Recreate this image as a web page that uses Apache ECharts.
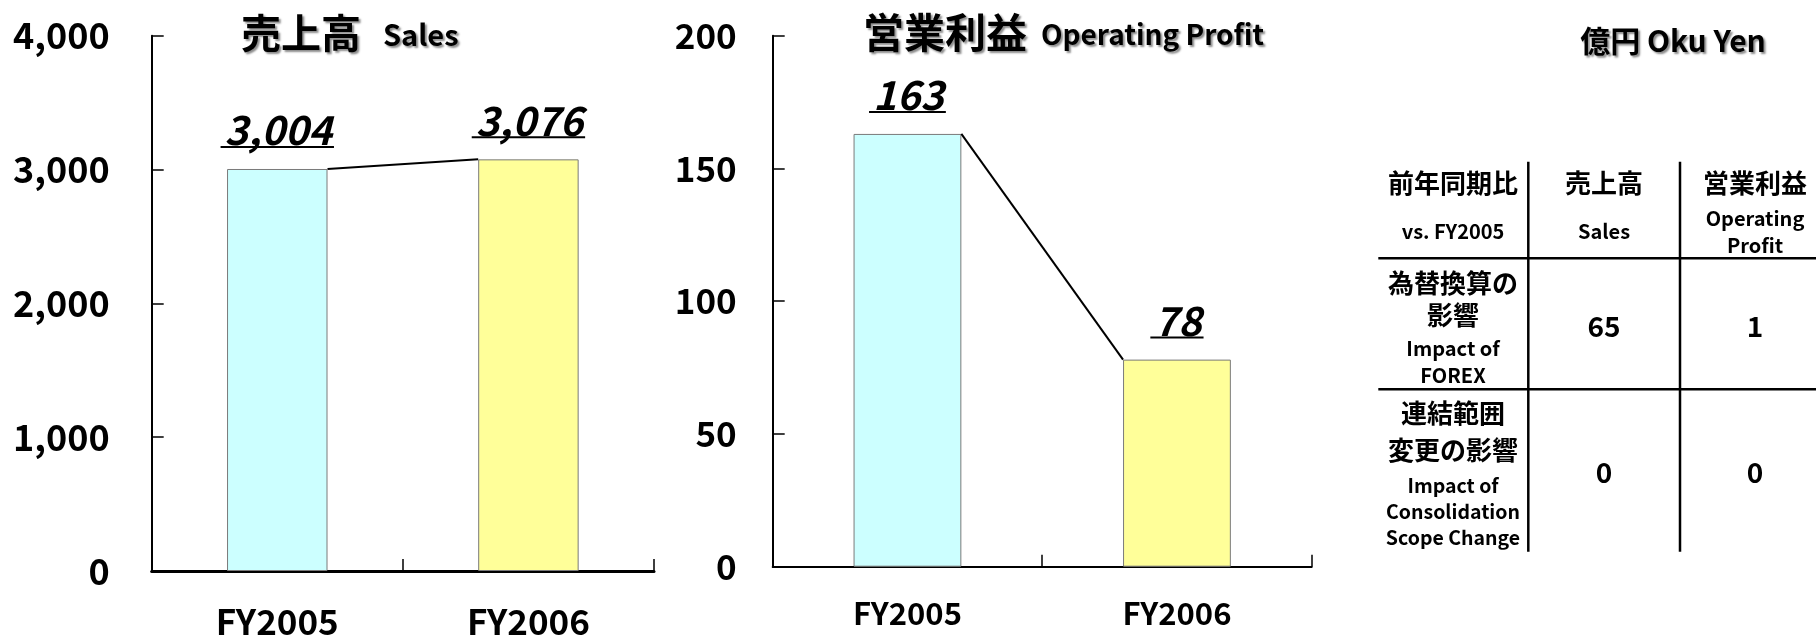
<!DOCTYPE html>
<html>
<head>
<meta charset="utf-8">
<script src="https://cdn.jsdelivr.net/npm/echarts@6/dist/echarts.min.js"></script>
<style>
html,body{margin:0;padding:0;background:#fff;}
#chart{width:1816px;height:641px;}
</style>
</head>
<body>
<div id="chart"></div>
<script>
// ---- data ----
const categories = ['FY2005', 'FY2006'];
const salesValues = [3004, 3076];
const profitValues = [163, 78];
const barColors = ['#CCFFFF', '#FFFF99'];
const salesAxis = { min: 0, max: 4000, interval: 1000 };
const profitAxis = { min: 0, max: 200, interval: 50 };
const salesTitle = ['売上高', 'Sales'];
const profitTitle = ['営業利益', 'Operating Profit'];
const unitLabel = '億円 Oku Yen';
const tableHeaderJa = ['前年同期比', '売上高', '営業利益'];
const tableHeaderEn = ['vs. FY2005', 'Sales', 'Operating\nProfit'];
const rowLabelsJa = ['為替換算の\n影響', '連結範囲\n変更の影響'];
const rowLabelsEn = ['Impact of\nFOREX', 'Impact of\nConsolidation\nScope Change'];
const forexImpact = [65, 1];
const scopeImpact = [0, 0];

// ---- helpers ----
const FONT = '"Noto Sans CJK JP", "Noto Sans", sans-serif';
const mctx = document.createElement('canvas').getContext('2d');
function measure(t, font) { mctx.font = font; return mctx.measureText(t).width; }
function fmt(v) { return Number(v).toLocaleString('en-US'); }
const BAR_RATIO = 0.4;

function labelRender(fontSize) {
  return function (params, api) {
    const c = api.coord([api.value(0), api.value(1)]);
    const txt = fmt(api.value(1));
    const font = 'italic bold ' + fontSize + 'px ' + FONT;
    const w = measure(txt, font);
    const uy = c[1] - 22;
    return {
      type: 'group',
      children: [
        { type: 'text', x: c[0] + 1, y: uy - 17,
          style: { text: txt, font: font, fill: '#000', align: 'center', verticalAlign: 'middle' } },
        { type: 'line', shape: { x1: c[0] - w / 2 - 3, y1: uy, x2: c[0] + w / 2 + 3, y2: uy },
          style: { stroke: '#000', lineWidth: 2 } }
      ]
    };
  };
}
function connectorRender(params, api) {
  const bw = api.size([1, 0])[0] * BAR_RATIO;
  const p0 = api.coord([api.value(0), api.value(1)]);
  const p1 = api.coord([api.value(2), api.value(3)]);
  return { type: 'line',
    shape: { x1: p0[0] + bw / 2, y1: p0[1], x2: p1[0] - bw / 2, y2: p1[1] },
    style: { stroke: '#000', lineWidth: 2 } };
}
function barData(vals) {
  return vals.map((v, i) => ({ value: v, itemStyle: { color: barColors[i] } }));
}
function pairs(vals) {
  const out = [];
  for (let i = 0; i < vals.length - 1; i++) out.push([i, vals[i], i + 1, vals[i + 1]]);
  return out;
}

const chart = echarts.init(document.getElementById('chart'), null, { renderer: 'canvas' });

function xAxisCfg(gridIndex, fontSize, margin, lineW) {
  return {
    type: 'category', gridIndex: gridIndex, data: categories, boundaryGap: true,
    axisLine: { show: true, lineStyle: { color: '#000', width: lineW } },
    axisTick: { show: true, inside: true, length: 12, alignWithLabel: false, lineStyle: { color: '#000', width: 1.5 } },
    axisLabel: { interval: 0, color: '#000', fontFamily: FONT, fontWeight: 'bold', fontSize: fontSize, margin: margin },
    splitLine: { show: false }
  };
}
function yAxisCfg(gridIndex, ax, fontSize, margin) {
  return {
    type: 'value', gridIndex: gridIndex, min: ax.min, max: ax.max, interval: ax.interval,
    axisLine: { show: true, lineStyle: { color: '#000', width: 2 } },
    axisTick: { show: true, inside: true, length: 12, lineStyle: { color: '#000', width: 1.5 } },
    axisLabel: { color: '#000', fontFamily: FONT, fontWeight: 'bold', fontSize: fontSize, margin: margin,
      formatter: v => fmt(v) },
    splitLine: { show: false }
  };
}

const titleShadow = { textShadowColor: 'rgba(0,0,0,0.45)', textShadowBlur: 2, textShadowOffsetX: 2, textShadowOffsetY: 2 };
function txt(x, y, text, size, extra) {
  return { type: 'text', x: x, y: y, silent: true,
    style: Object.assign({ text: text, font: 'bold ' + size + 'px ' + FONT, fill: '#000',
      align: 'center', verticalAlign: 'middle' }, extra || {}) };
}

const colX = [1453, 1604, 1755];
const graphics = [
  // chart titles
  txt(241, 33, salesTitle[0], 40, Object.assign({ align: 'left' }, titleShadow)),
  txt(383, 35, salesTitle[1], 29, Object.assign({ align: 'left' }, titleShadow)),
  txt(863, 32, profitTitle[0], 41, Object.assign({ align: 'left' }, titleShadow)),
  txt(1041, 34, profitTitle[1], 28, Object.assign({ align: 'left' }, titleShadow)),
  txt(1673, 41, unitLabel, 30, titleShadow),
  // table lines
  { type: 'line', shape: { x1: 1528.3, y1: 161.7, x2: 1528.3, y2: 551.7 }, style: { stroke: '#000', lineWidth: 2.5 } },
  { type: 'line', shape: { x1: 1680, y1: 161.7, x2: 1680, y2: 551.7 }, style: { stroke: '#000', lineWidth: 2.5 } },
  { type: 'line', shape: { x1: 1378.3, y1: 258.3, x2: 1816, y2: 258.3 }, style: { stroke: '#000', lineWidth: 2.5 } },
  { type: 'line', shape: { x1: 1378.3, y1: 389.3, x2: 1816, y2: 389.3 }, style: { stroke: '#000', lineWidth: 2.5 } }
];
tableHeaderJa.forEach((t, i) => graphics.push(txt(colX[i], 183.3, t, 26)));
tableHeaderEn.forEach((t, i) => graphics.push(txt(colX[i], 231.7, t, 20, { lineHeight: 26.7 })));
graphics.push(txt(colX[0], 299.2, rowLabelsJa[0], 26, { lineHeight: 31.7 }));
graphics.push(txt(colX[0], 361.7, rowLabelsEn[0], 20, { lineHeight: 26.7 }));
graphics.push(txt(colX[0], 431.7, rowLabelsJa[1], 26, { lineHeight: 36.7 }));
graphics.push(txt(colX[0], 511.4, rowLabelsEn[1], 19.5, { lineHeight: 26.3 }));
forexImpact.forEach((v, i) => graphics.push(txt(colX[i + 1], 326.7, fmt(v), 28)));
scopeImpact.forEach((v, i) => graphics.push(txt(colX[i + 1], 472.7, fmt(v), 28)));

const option = {
  backgroundColor: '#ffffff',
  animation: false,
  grid: [
    { left: 151.7, top: 35.7, width: 502.3, height: 535.3, containLabel: false, outerBoundsMode: 'none' },
    { left: 772.7, top: 35.7, width: 539, height: 531, containLabel: false, outerBoundsMode: 'none' }
  ],
  xAxis: [xAxisCfg(0, 35, 33, 3), xAxisCfg(1, 31, 31, 2)],
  yAxis: [yAxisCfg(0, salesAxis, 36, 42), yAxisCfg(1, profitAxis, 35, 36)],
  series: [
    { type: 'bar', xAxisIndex: 0, yAxisIndex: 0, data: barData(salesValues), barWidth: (BAR_RATIO * 100) + '%',
      itemStyle: { borderColor: '#7a7a7a', borderWidth: 1 } },
    { type: 'bar', xAxisIndex: 1, yAxisIndex: 1, data: barData(profitValues), barWidth: (BAR_RATIO * 100) + '%',
      itemStyle: { borderColor: '#7a7a7a', borderWidth: 1 } },
    { type: 'custom', xAxisIndex: 0, yAxisIndex: 0, data: pairs(salesValues), encode: { x: [0, 2], y: [1, 3] },
      renderItem: connectorRender, z: 5 },
    { type: 'custom', xAxisIndex: 1, yAxisIndex: 1, data: pairs(profitValues), encode: { x: [0, 2], y: [1, 3] },
      renderItem: connectorRender, z: 5 },
    { type: 'custom', xAxisIndex: 0, yAxisIndex: 0, data: salesValues.map((v, i) => [i, v]), encode: { x: 0, y: 1 },
      renderItem: labelRender(40), clip: false, z: 6 },
    { type: 'custom', xAxisIndex: 1, yAxisIndex: 1, data: profitValues.map((v, i) => [i, v]), encode: { x: 0, y: 1 },
      renderItem: labelRender(40), clip: false, z: 6 }
  ],
  graphic: graphics
};
chart.setOption(option);
</script>
</body>
</html>
